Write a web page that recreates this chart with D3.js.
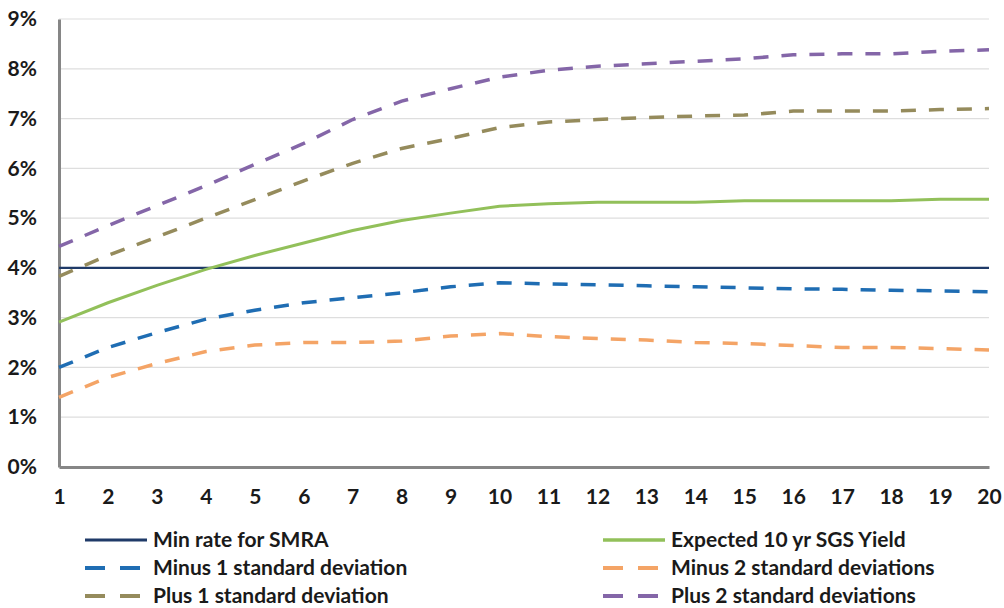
<!DOCTYPE html>
<meta charset="utf-8">
<style>
body {
    margin: 0px;
    background: white;
    overflow: hidden;
}
text {
  font-family: Lato, "Open Sans", sans-serif;
  font-weight: bold;
  fill: #1a1a1a;
}
</style>
<body>
<script src="https://d3js.org/d3.v7.min.js"></script>
<script>
var years = d3.range(1, 21);
var yTicks = [0, 1, 2, 3, 4, 5, 6, 7, 8, 9];

var minRate = [4, 4, 4, 4, 4, 4, 4, 4, 4, 4, 4, 4, 4, 4, 4, 4, 4, 4, 4, 4];
var expected = [2.91, 3.3, 3.65, 3.97, 4.25, 4.5, 4.75, 4.95, 5.1, 5.24, 5.29, 5.32, 5.32, 5.32, 5.35, 5.35, 5.35, 5.35, 5.38, 5.38];
var minus1 = [2.0, 2.4, 2.7, 2.97, 3.15, 3.3, 3.4, 3.5, 3.62, 3.7, 3.68, 3.66, 3.64, 3.62, 3.6, 3.58, 3.57, 3.55, 3.54, 3.52];
var minus2 = [1.4, 1.8, 2.08, 2.32, 2.45, 2.5, 2.5, 2.53, 2.63, 2.68, 2.62, 2.58, 2.55, 2.5, 2.48, 2.44, 2.4, 2.4, 2.38, 2.35];
var plus1 = [3.83, 4.25, 4.62, 5.0, 5.37, 5.75, 6.1, 6.4, 6.6, 6.82, 6.93, 6.98, 7.02, 7.05, 7.07, 7.15, 7.15, 7.15, 7.18, 7.2];
var plus2 = [4.43, 4.85, 5.25, 5.65, 6.08, 6.5, 6.98, 7.35, 7.6, 7.83, 7.97, 8.05, 8.1, 8.15, 8.2, 8.28, 8.3, 8.3, 8.35, 8.38];

var series = [
  {name: "Min rate for SMRA", values: minRate, color: "#1f3a68", dash: null, width: 2.4},
  {name: "Expected 10 yr SGS Yield", values: expected, color: "#92c05a", dash: null, width: 3},
  {name: "Minus 1 standard deviation", values: minus1, color: "#1f6db3", dash: "15,13", width: 3.5},
  {name: "Minus 2 standard deviations", values: minus2, color: "#f4a466", dash: "15,13", width: 3.5},
  {name: "Plus 1 standard deviation", values: plus1, color: "#958b5c", dash: "15,13", width: 3.5},
  {name: "Plus 2 standard deviations", values: plus2, color: "#8466a8", dash: "15,13", width: 3.5}
];

var width = 1004, height = 608;
var mLeft = 59, mRight = 989, mTop = 19, mBottom = 467;

var svg = d3.select("body").append("svg")
    .attr("width", width)
    .attr("height", height);

var x = d3.scaleLinear().domain([1, 20]).range([mLeft, mRight]);
var y = d3.scaleLinear().domain([0, 9]).range([mBottom, mTop]);

// gridlines
svg.append("g")
  .selectAll("line")
  .data(yTicks.slice(1))
  .enter().append("line")
    .attr("x1", mLeft).attr("x2", mRight)
    .attr("y1", d => y(d)).attr("y2", d => y(d))
    .attr("stroke", "#dedede")
    .attr("stroke-width", 1.2);

// axes
var yAxis = svg.append("g")
    .attr("transform", "translate(" + mLeft + ",0)")
    .call(d3.axisLeft(y).tickValues(yTicks).tickSize(0).tickPadding(22).tickFormat(d => d + "%"));
var xAxis = svg.append("g")
    .attr("transform", "translate(0," + mBottom + ")")
    .call(d3.axisBottom(x).tickValues(years).tickSize(0).tickPadding(22).tickFormat(d3.format("d")));

[yAxis, xAxis].forEach(function(a) {
  a.select(".domain").attr("stroke", "#868686").attr("stroke-width", 3);
  a.selectAll("text").attr("font-size", 21).attr("fill", "#1a1a1a")
    .style("font-family", "Lato, sans-serif").style("font-weight", "bold");
});

// lines
var line = d3.line()
    .x((d, i) => x(years[i]))
    .y(d => y(d));

svg.append("g")
  .selectAll("path")
  .data(series)
  .enter().append("path")
    .attr("d", d => line(d.values))
    .attr("fill", "none")
    .attr("stroke", d => d.color)
    .attr("stroke-width", d => d.width)
    .attr("stroke-dasharray", d => d.dash);

// legend
var legend = svg.append("g")
  .selectAll("g")
  .data(series)
  .enter().append("g")
    .attr("transform", (d, i) => "translate(" + (i % 2 ? 603 : 85) + "," + (540 + Math.floor(i / 2) * 28) + ")");

legend.append("line")
    .attr("x1", 0).attr("x2", 62)
    .attr("y1", 0).attr("y2", 0)
    .attr("stroke", d => d.color)
    .attr("stroke-width", d => d.width + 0.5)
    .attr("stroke-dasharray", d => d.dash ? "20,15" : null);

legend.append("text")
    .attr("x", 68)
    .attr("dy", "0.35em")
    .attr("font-size", 21)
    .text(d => d.name);
</script>
</body>
</html>
